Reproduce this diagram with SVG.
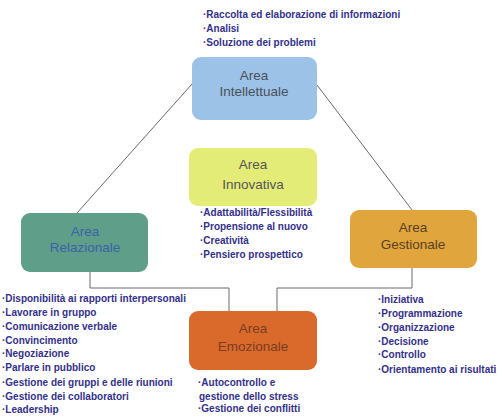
<svg xmlns="http://www.w3.org/2000/svg" width="502" height="417" viewBox="0 0 502 417">
<style>
.lst{font-family:"Liberation Sans",Arial,sans-serif;font-weight:bold;font-size:10px;fill:#33308a}
.lbl{font-family:"Liberation Sans",Arial,sans-serif;font-size:13.5px;text-anchor:middle}
.con{fill:none;stroke:#6a6a6a;stroke-width:1}
</style>
<rect width="502" height="417" fill="#ffffff"/>
<g id="connectors">
<line class="con" x1="192" y1="84" x2="77" y2="213"/>
<line class="con" x1="317" y1="85" x2="412" y2="210"/>
<polyline class="con" points="90,272 90,288 229,288 229,311"/>
<polyline class="con" points="412,268 412,288 277,288 277,311"/>
</g>
<g id="intellettuale">
<rect x="192" y="57" width="125" height="63" rx="9" fill="#9cc3e7"/>
<text class="lbl" x="254" y="80" fill="#4a4f5a">Area</text>
<text class="lbl" x="254" y="96" fill="#4a4f5a">Intellettuale</text>
<text class="lst" x="203" y="18">·Raccolta ed elaborazione di informazioni</text>
<text class="lst" x="203" y="32">·Analisi</text>
<text class="lst" x="203" y="46">·Soluzione dei problemi</text>
</g>
<g id="innovativa">
<rect x="189" y="148" width="128" height="58" rx="9" fill="#e4ec78"/>
<text class="lbl" x="253" y="169" fill="#555">Area</text>
<text class="lbl" x="253" y="189" fill="#555">Innovativa</text>
<text class="lst" x="200" y="216">·Adattabilità/Flessibilità</text>
<text class="lst" x="200" y="230">·Propensione al nuovo</text>
<text class="lst" x="200" y="244">·Creatività</text>
<text class="lst" x="200" y="258">·Pensiero prospettico</text>
</g>
<g id="relazionale">
<rect x="21" y="213" width="127" height="59" rx="9" fill="#5f9e89"/>
<text class="lbl" x="85" y="236" fill="#3a62a8">Area</text>
<text class="lbl" x="85" y="252" fill="#3a62a8">Relazionale</text>
<text class="lst" x="2" y="302">·Disponibilità ai rapporti interpersonali</text>
<text class="lst" x="2" y="316">·Lavorare in gruppo</text>
<text class="lst" x="2" y="330">·Comunicazione verbale</text>
<text class="lst" x="2" y="344">·Convincimento</text>
<text class="lst" x="2" y="357">·Negoziazione</text>
<text class="lst" x="2" y="371">·Parlare in pubblico</text>
<text class="lst" x="2" y="386">·Gestione dei gruppi e delle riunioni</text>
<text class="lst" x="2" y="400">·Gestione dei collaboratori</text>
<text class="lst" x="2" y="413">·Leadership</text>
</g>
<g id="gestionale">
<rect x="350" y="210" width="127" height="58" rx="9" fill="#e0a53c"/>
<text class="lbl" x="413" y="232" fill="#5a3f22">Area</text>
<text class="lbl" x="413" y="249" fill="#5a3f22">Gestionale</text>
<text class="lst" x="378" y="303">·Iniziativa</text>
<text class="lst" x="378" y="317">·Programmazione</text>
<text class="lst" x="378" y="331">·Organizzazione</text>
<text class="lst" x="378" y="345">·Decisione</text>
<text class="lst" x="378" y="358">·Controllo</text>
<text class="lst" x="378" y="373">·Orientamento ai risultati</text>
</g>
<g id="emozionale">
<rect x="189" y="311" width="128" height="59" rx="9" fill="#d96a2c"/>
<text class="lbl" x="253" y="333" fill="#7a3c22">Area</text>
<text class="lbl" x="253" y="351" fill="#7a3c22">Emozionale</text>
<text class="lst" x="198" y="386">·Autocontrollo e</text>
<text class="lst" x="199" y="400">gestione dello stress</text>
<text class="lst" x="198" y="412">·Gestione dei conflitti</text>
</g>
</svg>
